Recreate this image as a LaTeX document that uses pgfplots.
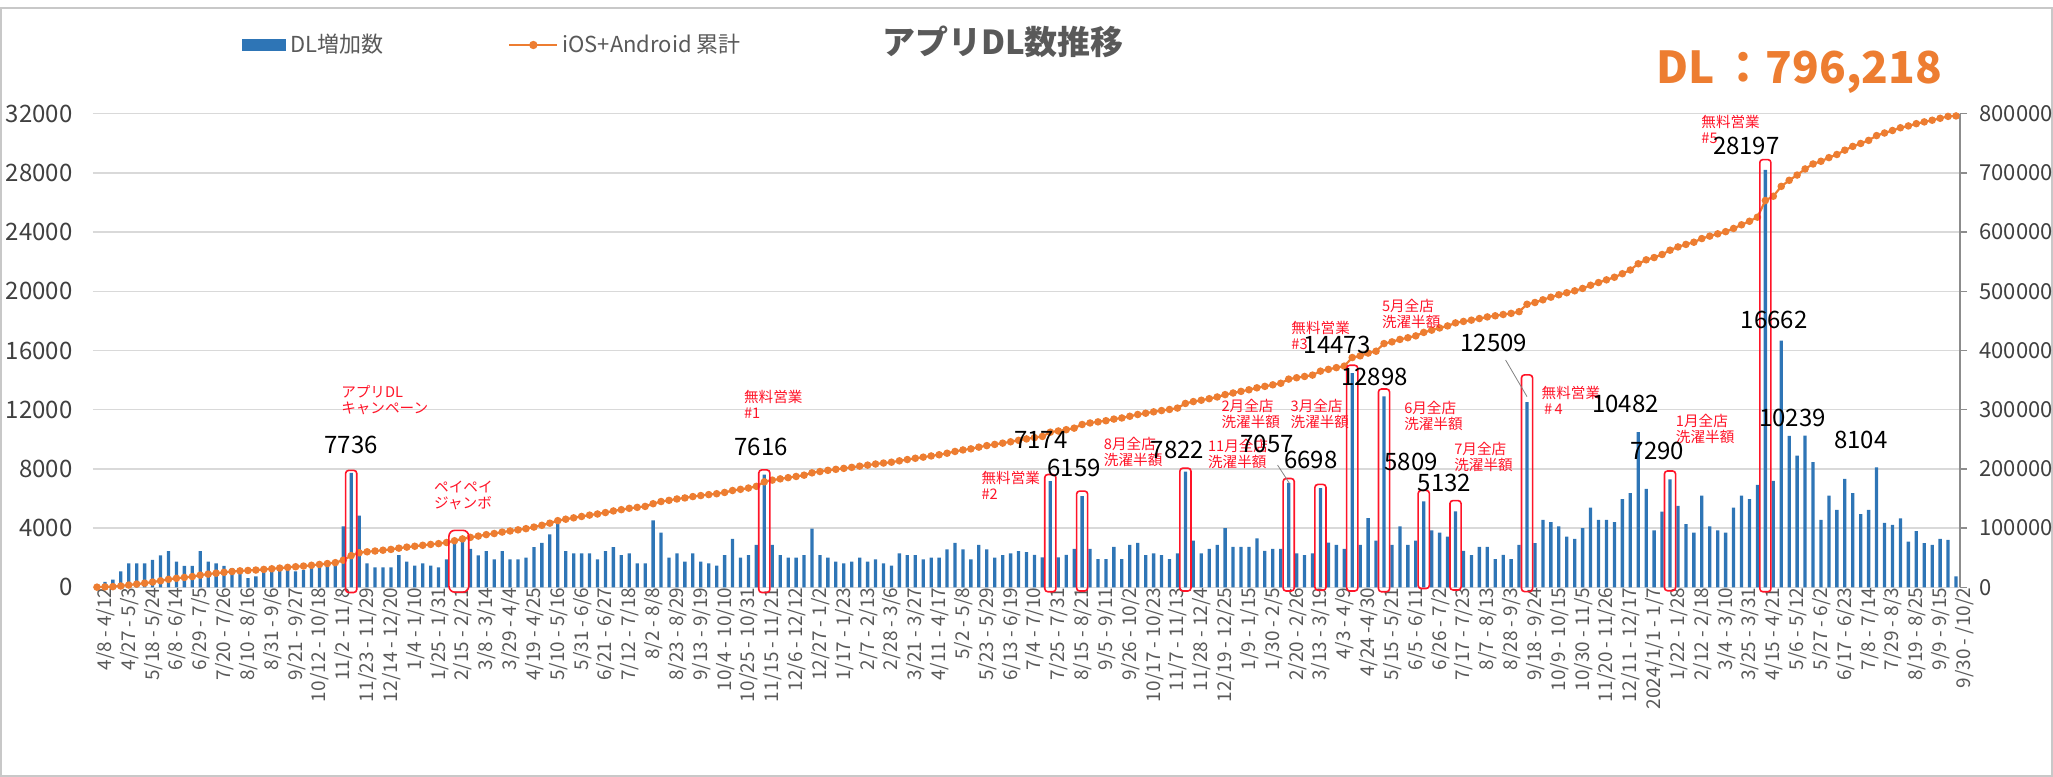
\documentclass[border=0pt]{standalone}
\usepackage{fontspec}
\setmainfont{Noto Sans CJK JP}
\usepackage{pgfplots}
\usepackage{pgfplotstable}
\pgfplotsset{compat=1.18}
\definecolor{barblue}{RGB}{46,117,182}
\definecolor{lineorange}{RGB}{237,125,49}
\definecolor{gridgray}{RGB}{217,217,217}
\definecolor{axisgray}{RGB}{140,140,140}
\definecolor{txtgray}{RGB}{89,89,89}
\definecolor{txtdark}{RGB}{64,64,64}
\definecolor{annred}{RGB}{255,20,40}
\definecolor{framegray}{RGB}{200,200,200}

\pgfplotstableread{
i dl cum
0 220 220
1 370 590
2 520 1110
3 1070 2180
4 1610 3790
5 1610 5400
6 1610 7010
7 1850 8860
8 2150 11010
9 2440 13450
10 1740 15190
11 1450 16640
12 1450 18090
13 2440 20530
14 1740 22270
15 1610 23880
16 1450 25330
17 1290 26620
18 1180 27800
19 620 28420
20 730 29150
21 1070 30220
22 1070 31290
23 1180 32470
24 1180 33650
25 1070 34720
26 1180 35900
27 1290 37190
28 1400 38590
29 1520 40110
30 1520 41630
31 4120 45750
32 7736 53486
33 4850 58336
34 1610 59946
35 1340 61286
36 1340 62626
37 1340 63966
38 2170 66136
39 1740 67876
40 1470 69346
41 1610 70956
42 1470 72426
43 1340 73766
44 1880 75646
45 2980 78626
46 3140 81766
47 2600 84366
48 2150 86516
49 2440 88956
50 1880 90836
51 2440 93276
52 1880 95156
53 1880 97036
54 2010 99046
55 2710 101756
56 3000 104756
57 3570 108326
58 4260 112586
59 2440 115026
60 2300 117326
61 2300 119626
62 2300 121926
63 1880 123806
64 2440 126246
65 2710 128956
66 2170 131126
67 2300 133426
68 1610 135036
69 1610 136646
70 4530 141176
71 3700 144876
72 2010 146886
73 2300 149186
74 1740 150926
75 2300 153226
76 1740 154966
77 1610 156576
78 1470 158046
79 2170 160216
80 3270 163486
81 2010 165496
82 2170 167666
83 2870 170536
84 7616 178152
85 2870 181022
86 2170 183192
87 2010 185202
88 2010 187212
89 2170 189382
90 3970 193352
91 2170 195522
92 2010 197532
93 1740 199272
94 1610 200882
95 1740 202622
96 2010 204632
97 1740 206372
98 1880 208252
99 1610 209862
100 1470 211332
101 2300 213632
102 2170 215802
103 2170 217972
104 1880 219852
105 2010 221862
106 2010 223872
107 2570 226442
108 3000 229442
109 2570 232012
110 1880 233892
111 2870 236762
112 2570 239332
113 2010 241342
114 2170 243512
115 2300 245812
116 2440 248252
117 2370 250622
118 2190 252812
119 2030 254842
120 7174 262016
121 2030 264046
122 2190 266236
123 2600 268836
124 6159 274995
125 2600 277595
126 1900 279495
127 1900 281395
128 2730 284125
129 1900 286025
130 2870 288895
131 3000 291895
132 2170 294065
133 2300 296365
134 2170 298535
135 1900 300435
136 2300 302735
137 7822 310557
138 3160 313717
139 2300 316017
140 2600 318617
141 2870 321487
142 3990 325477
143 2730 328207
144 2730 330937
145 2730 333667
146 3300 336967
147 2460 339427
148 2600 342027
149 2600 344627
150 7057 351684
151 2300 353984
152 2170 356154
153 2300 358454
154 6698 365152
155 3020 368172
156 2870 371042
157 2600 373642
158 14473 388115
159 2870 390985
160 4670 395655
161 3160 398815
162 12898 411713
163 2870 414583
164 4110 418693
165 2870 421563
166 3160 424723
167 5809 430532
168 3840 434372
169 3700 438072
170 3430 441502
171 5132 446634
172 2460 449094
173 2170 451264
174 2730 453994
175 2730 456724
176 1900 458624
177 2190 460814
178 1900 462714
179 2870 465584
180 12509 478093
181 2980 481073
182 4560 485633
183 4400 490033
184 4110 494143
185 3430 497573
186 3270 500843
187 3990 504833
188 5390 510223
189 4560 514783
190 4560 519343
191 4400 523743
192 5950 529693
193 6360 536053
194 10482 546535
195 6650 553185
196 3840 557025
197 5120 562145
198 7290 569435
199 5500 574935
200 4260 579195
201 3700 582895
202 6200 589095
203 4110 593205
204 3840 597045
205 3700 600745
206 5390 606135
207 6200 612335
208 5950 618285
209 6920 625205
210 28197 653402
211 7190 660592
212 16662 677254
213 10239 687493
214 8900 696393
215 10250 706643
216 8450 715093
217 4560 719653
218 6200 725853
219 5230 731083
220 7330 738413
221 6360 744773
222 4940 749713
223 5230 754943
224 8104 763047
225 4360 767407
226 4210 771617
227 4660 776277
228 3080 779357
229 3800 783157
230 2980 786137
231 2870 789007
232 3270 792277
233 3211 795488
234 730 796218
}\dltable

\pgfplotsset{
  base/.style={at={(46.5pt,94.85pt)}, anchor=south west, scale only axis,
    width=933.5pt, height=236.8pt, xmin=-0.5, xmax=234.5},
  numfmt/.style={scaled y ticks=false,
    yticklabel style={/pgf/number format/fixed, /pgf/number format/1000 sep={},
      /pgf/number format/assume math mode=true}},
}
\tikzset{
  annot/.style={text=annred, font=\fontsize{7.3}{8}\selectfont, align=left, inner sep=0pt, anchor=north west},
  dlab/.style={text=black, font=\fontsize{12}{12}\selectfont, inner sep=0pt},
  rbox/.style={draw=annred, line width=0.8pt, rounded corners=1.5pt},
}

\begin{document}
\begin{tikzpicture}
\path[use as bounding box] (0,0) rectangle (1026.5pt,388.5pt);
\draw[framegray, line width=0.8pt] (0.5pt,0.5pt) rectangle (1026pt,384.5pt);

% bars, left axis
\begin{axis}[base, numfmt,
  ymin=0, ymax=32000, ytick={0,4000,...,32000},
  ymajorgrids, grid style={gridgray, line width=0.7pt},
  axis y line*=left, axis x line*=bottom,
  y axis line style={draw=none},
  x axis line style={gridgray, line width=0.7pt},
  major tick length=0pt,
  xtick={0,3,...,234},
  xticklabels={4/8 - 4/12, 4/27 - 5/3, 5/18 - 5/24, 6/8 - 6/14, 6/29 - 7/5, 7/20 - 7/26, 8/10 - 8/16, 8/31 - 9/6, 9/21 - 9/27, 10/12 - 10/18, 11/2 - 11/8, 11/23 - 11/29, 12/14 - 12/20, 1/4 - 1/10, 1/25 - 1/31, 2/15 - 2/21, 3/8 - 3/14, 3/29 - 4/4, 4/19 - 4/25, 5/10 - 5/16, 5/31 - 6/6, 6/21 - 6/27, 7/12 - 7/18, 8/2 - 8/8, 8/23 - 8/29, 9/13 - 9/19, 10/4 - 10/10, 10/25 - 10/31, 11/15 - 11/21, 12/6 - 12/12, 12/27 - 1/2, 1/17 - 1/23, 2/7 - 2/13, 2/28 - 3/6, 3/21 - 3/27, 4/11 - 4/17, 5/2 - 5/8, 5/23 - 5/29, 6/13 - 6/19, 7/4 - 7/10, 7/25 - 7/31, 8/15 - 8/21, 9/5 - 9/11, 9/26 - 10/2, 10/17 - 10/23, 11/7 - 11/13, 11/28 - 12/4, 12/19 - 12/25, 1/9 - 1/15, 1/30 - 2/5, 2/20 - 2/26, 3/13 - 3/19, 4/3 - 4/9, 4/24 -4/30, 5/15 - 5/21, 6/5 - 6/11, 6/26 - 7/2, 7/17 - 7/23, 8/7 - 8/13, 8/28 - 9/3, 9/18 - 9/24, 10/9 - 10/15, 10/30 - 11/5, 11/20 - 11/26, 12/11 - 12/17, 2024/1/1 - 1/7, 1/22 - 1/28, 2/12 - 2/18, 3/4 - 3/10, 3/25 - 3/31, 4/15 - 4/21, 5/6 - 5/12, 5/27 - 6/2, 6/17 - 6/23, 7/8 - 7/14, 7/29 - 8/3, 8/19 - 8/25, 9/9 - 9/15, 9/30 - /10/2},
  x tick label style={rotate=90, anchor=east, inner sep=0pt, yshift=-4.3pt,
    font=\fontsize{9.5}{9.5}\selectfont, text=txtgray},
  y tick label style={inner sep=0pt, xshift=-10pt, font=\fontsize{12}{12}\selectfont, text=txtdark},
]
\addplot[ybar, bar width=1.65pt, fill=barblue, draw=none] table[x=i, y=dl] {\dltable};
\end{axis}

% cumulative line, right axis
\begin{axis}[base, numfmt,
  ymin=0, ymax=800000,
  ytick={0,100000,200000,300000,400000,500000,600000,700000,800000},
  axis y line*=right, axis x line=none, xtick=\empty,
  y axis line style={draw=axisgray, line width=0.7pt},
  ytick style={draw=axisgray, line width=0.7pt},
  tick align=outside, major tick length=3.5pt,
  y tick label style={inner sep=0pt, xshift=6pt, font=\fontsize{11}{11}\selectfont, text=txtdark},
  legend columns=2,
  legend style={at={(0.0798,1.1451)}, anchor=west, draw=none, fill=none,
    inner sep=0pt, font=\fontsize{11}{11}\selectfont, text=txtgray,
    /tikz/every even column/.append style={column sep=60.5pt}},
]
\addlegendimage{legend image code/.code={\fill[barblue] (0pt,-2.6pt) rectangle (21.5pt,2.6pt);}}
\addlegendentry{DL増加数}
\addplot[lineorange, line width=1.1pt, mark=*, mark size=1.3pt,
  mark options={fill=lineorange, draw=lineorange},
  legend image code/.code={\draw[lineorange, line width=1.1pt] (0pt,0pt) -- (24pt,0pt);
    \fill[lineorange] (12pt,0pt) circle (1.5pt);}]
  table[x=i, y=cum] {\dltable};
\addlegendentry{iOS+Android 累計}
\end{axis}

% annotations in bar units
\begin{axis}[base, ymin=0, ymax=32000, hide axis, clip=false]
\draw[rbox] (axis cs:31.3,-350) rectangle (axis cs:32.7,7900);
\draw[draw=annred, line width=0.8pt, rounded corners=3pt] (axis cs:44.3,-330) rectangle (axis cs:46.8,3850);
\draw[rbox] (axis cs:83.3,-350) rectangle (axis cs:84.7,7930);
\draw[rbox] (axis cs:119.3,-300) rectangle (axis cs:120.7,7620);
\draw[rbox] (axis cs:123.3,-250) rectangle (axis cs:124.7,6500);
\draw[rbox] (axis cs:136.3,-250) rectangle (axis cs:137.7,8050);
\draw[rbox] (axis cs:149.3,-250) rectangle (axis cs:150.7,7350);
\draw[rbox] (axis cs:153.3,-200) rectangle (axis cs:154.7,6950);
\draw[rbox] (axis cs:157.3,-250) rectangle (axis cs:158.7,15000);
\draw[rbox] (axis cs:161.3,-300) rectangle (axis cs:162.7,13400);
\draw[rbox] (axis cs:166.3,-80) rectangle (axis cs:167.7,6550);
\draw[rbox] (axis cs:170.3,-180) rectangle (axis cs:171.7,5860);
\draw[rbox] (axis cs:179.3,-290) rectangle (axis cs:180.7,14350);
\draw[rbox] (axis cs:197.3,-230) rectangle (axis cs:198.7,7860);
\draw[rbox] (axis cs:209.3,-300) rectangle (axis cs:210.7,28900);

\draw[gray, line width=0.4pt] (axis cs:148.6,8260) -- (axis cs:150.1,7020);
\draw[gray, line width=0.4pt] (axis cs:177.3,15360) -- (axis cs:180.0,12880);

\node[annot] at (axis cs:30.7,13665) {アプリDL\\キャンペーン};
\node[annot] at (axis cs:42.4,7175) {ペイペイ\\ジャンボ};
\node[annot] at (axis cs:81.4,13335) {無料営業\\\#1};
\node[annot] at (axis cs:111.3,7855) {無料営業\\\#2};
\node[annot] at (axis cs:126.7,10155) {8月全店\\洗濯半額};
\node[annot] at (axis cs:139.8,10015) {11月全店\\洗濯半額};
\node[annot] at (axis cs:141.5,12715) {2月全店\\洗濯半額};
\node[annot] at (axis cs:150.2,12715) {3月全店\\洗濯半額};
\node[annot] at (axis cs:150.3,17985) {無料営業\\\#3};
\node[annot] at (axis cs:161.7,19475) {5月全店\\洗濯半額};
\node[annot] at (axis cs:164.5,12585) {6月全店\\洗濯半額};
\node[annot] at (axis cs:170.8,9815) {7月全店\\洗濯半額};
\node[annot] at (axis cs:181.8,13595) {無料営業\\\,\#\,4};
\node[annot] at (axis cs:198.7,11715) {1月全店\\洗濯半額};
\node[annot] at (axis cs:201.9,31945) {無料営業\\\#5};

\node[dlab] at (axis cs:32,9620) {7736};
\node[dlab] at (axis cs:83.6,9490) {7616};
\node[dlab] at (axis cs:118.8,9950) {7174};
\node[dlab] at (axis cs:123.0,8040) {6159};
\node[dlab] at (axis cs:136.0,9280) {7822};
\node[dlab] at (axis cs:147.3,9680) {7057};
\node[dlab] at (axis cs:152.8,8600) {6698};
\node[dlab] at (axis cs:156.1,16400) {14473};
\node[dlab] at (axis cs:160.8,14230) {12898};
\node[dlab] at (axis cs:165.4,8490) {5809};
\node[dlab] at (axis cs:169.6,7020) {5132};
\node[dlab] at (axis cs:175.8,16480) {12509};
\node[dlab] at (axis cs:192.4,12420) {10482};
\node[dlab] at (axis cs:196.4,9220) {7290};
\node[dlab] at (axis cs:207.6,29800) {28197};
\node[dlab] at (axis cs:211.1,18060) {16662};
\node[dlab] at (axis cs:213.4,11420) {10239};
\node[dlab] at (axis cs:222.0,9990) {8104};
\end{axis}

\node[font=\bfseries\fontsize{16.5}{16.5}\selectfont, text=txtgray, inner sep=0pt] at (501.5pt,367.5pt) {アプリDL数推移};
\node[font=\bfseries\fontsize{22}{22}\selectfont, text=lineorange, inner sep=0pt] at (899.5pt,352.5pt) {DL\,：796,218};
\end{tikzpicture}
\end{document}
